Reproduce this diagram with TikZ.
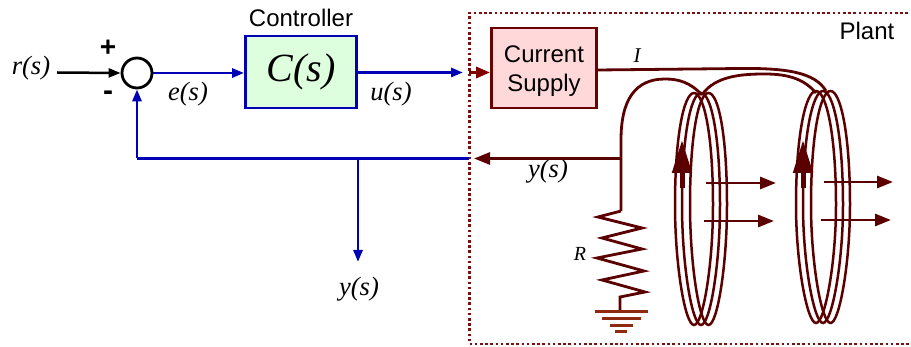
\documentclass[tikz,border=0pt]{standalone}
\usepackage{fontspec}
\setmainfont{Liberation Sans}
\newfontfamily\tim{Liberation Serif}
\usetikzlibrary{arrows.meta}
\definecolor{wine}{HTML}{5A0000}
\definecolor{dotc}{HTML}{7A1010}
\definecolor{bluel}{HTML}{0000B4}
\definecolor{gnd}{HTML}{8E2A10}
\tikzset{
 sans/.style={font=\fontsize{24}{29}\selectfont,align=center,inner sep=0pt,text=black},
 ital/.style={font=\tim\itshape\fontsize{26.5}{30}\selectfont,inner sep=0pt,text=black},
 bl/.style={draw=bluel,line width=2.8pt},
 wr/.style={draw=wine,line width=2.8pt},
 coil/.style={draw=wine,line width=2.5pt},
 blar/.style={-{Triangle[length=12pt,width=9pt]}},
 wrar/.style={-{Triangle[length=16pt,width=12pt]}},
}
\begin{document}
\begin{tikzpicture}[x=1pt,y=-1pt]
\useasboundingbox (0,0) rectangle (911,347);
% plant
\draw[dotc,line width=2.6pt,dash pattern=on 2.6pt off 2.6pt] (908,13) -- (469.5,13) -- (469.5,344) -- (911,344);
\node[sans] (plant) at (867,31) {Plant};
\node[sans] (ctl) at (301,18) {Controller};
% blocks
\node[draw=bluel,line width=2.8pt,fill=green!13,minimum width=111pt,minimum height=72pt,inner sep=0pt] (C) at (301,72) {\tim\itshape\fontsize{40}{40}\selectfont C(s)};
\node[draw=wine!90!red,line width=2.8pt,fill=red!15,minimum width=105pt,minimum height=80pt,inner sep=0pt] (S) at (544,68) {};
\node[sans] (Stext) at (544,71) {Current\\Supply};
\node[circle,draw=black,line width=2.8pt,fill=white,minimum size=30pt,inner sep=0pt] (sum) at (137,73) {};
% labels
\node[ital] (r) at (31,68) {r(s)};
\node[ital] (e) at (188,94) {e(s)};
\node[ital] (u) at (391,94) {u(s)};
\node[ital] (y1) at (548,171) {y(s)};
\node[ital] (y2) at (359,289) {y(s)};
\node[ital,font=\tim\itshape\fontsize{21}{22}\selectfont] (I) at (637,56) {I};
\node[ital,font=\tim\itshape\fontsize{20}{22}\selectfont] (Rl) at (580,254) {R};
\node[font=\bfseries\fontsize{28}{28}\selectfont,inner sep=0pt] (plus) at (108,48) {+};
\node[font=\bfseries\fontsize{30}{30}\selectfont,inner sep=0pt] (minus) at (108,96) {-};
% coordinates
\coordinate (rin) at (57,72.5);
\coordinate (uend) at (463,72.5);
\coordinate (mstart) at (469,72.5);
\coordinate (fbr) at (469,158.5);
\coordinate (fbl) at (137,158.5);
\coordinate (br) at (358,158.5);
\coordinate (brend) at (358,262);
\coordinate (tap) at (621,158.5);
\coordinate (tapend) at (474,158.5);
% signals
\draw[black,line width=2.5pt,blar] (rin) -- (sum.west);
\draw[bl,blar] (sum.east) -- (C.west |- sum.east);
\draw[bl,blar] (C.east |- uend) -- (uend);
\draw[draw=red!50!black,line width=3pt,-{Triangle[length=14pt,width=11pt]}] (mstart) -- (S.west |- mstart);
\draw[bl] (fbr) -- (fbl);
\draw[bl,blar] (fbl) -- (sum.south);
\draw[bl,blar] (br) -- (brend);
\draw[wr,wrar] (tap) -- (tapend);
% wire and resistor
\coordinate (z0) at (621,211);
\draw[wr,line join=round] (S.east |- 0,70) -- (740,68.5) .. controls (785,68) and (815,72) .. (826,91);
\draw[wr] (702,95) .. controls (715,75) and (745,74) .. (765,74) .. controls (790,74) and (805,80) .. (816,93);
\draw[wr] (702,95) .. controls (690,82) and (678,79) .. (665,79) .. controls (635,79) and (621,100) .. (621,140) -- (tap) -- (z0);
\draw[wr,line join=miter] (z0) -- (598,217) -- (642,228) -- (602,238) -- (642,249) -- (597,258) -- (644,271) -- (602,280) -- (645,292) -- (620,297) -- (620,312);
\draw[draw=gnd,line width=3pt] (595,312) -- (648,312) (602,318.5) -- (641,318.5) (610,325.5) -- (633,325.5) (615,332) -- (627,332);
% coil 1
\foreach \l/\r in {675/713, 682/720, 690/727}{
 \pgfmathsetmacro{\m}{(\l+\r)/2}
 \draw[coil] (\m,93) .. controls ({\m-10},93) and (\l,135) .. (\l,205)
  .. controls (\l,265) and ({\m-9},325) .. (\m,325)
  .. controls ({\m+9},325) and (\r,265) .. (\r,205)
  .. controls (\r,135) and ({\m+10},93) .. (\m,93) -- cycle;
}
% coil 2
\foreach \l/\r in {796/836, 803/843, 811/850}{
 \pgfmathsetmacro{\m}{(\l+\r)/2}
 \draw[coil] (\m,91) .. controls ({\m-10},91) and (\l,133) .. (\l,205)
  .. controls (\l,263) and ({\m-9},323) .. (\m,323)
  .. controls ({\m+9},323) and (\r,263) .. (\r,205)
  .. controls (\r,133) and ({\m+10},91) .. (\m,91) -- cycle;
}
% up arrows
\foreach \x in {682,803}{
 \coordinate (ua) at (\x,188);
 \coordinate (ub) at (\x,140);
 \draw[draw=wine,line width=5pt,-{Triangle[length=33pt,width=19pt]}] (ua) -- (ub);
}
% field arrows
\draw[wr,wrar] (706,183) -- (776,183);
\draw[wr,wrar] (704,221) -- (774,221);
\draw[wr,wrar] (824,182) -- (893,182);
\draw[wr,wrar] (821,220) -- (891,220);
\end{tikzpicture}
\end{document}
